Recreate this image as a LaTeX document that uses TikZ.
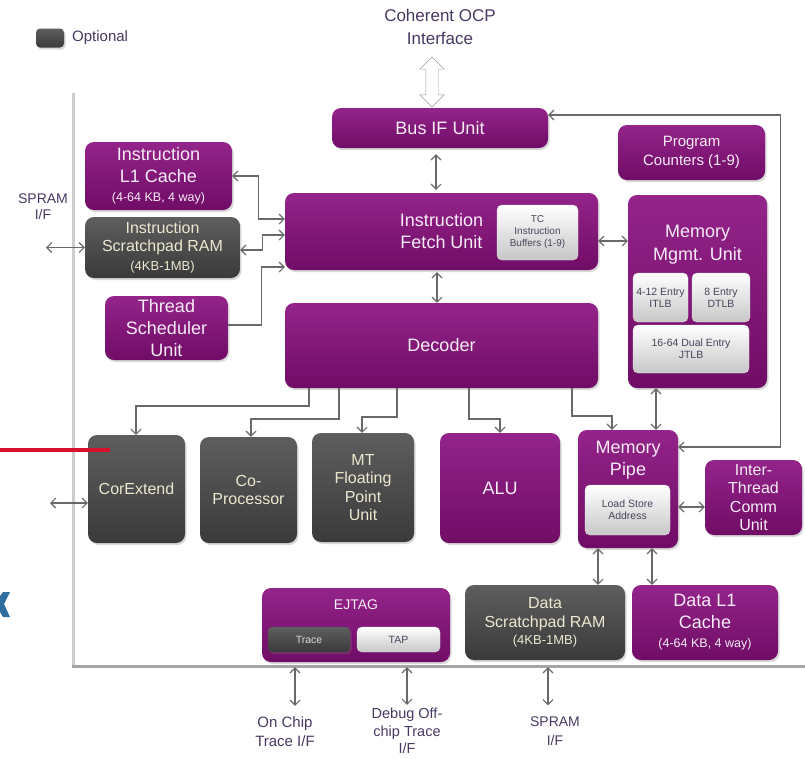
\documentclass[tikz,border=0pt]{standalone}
\usepackage{fontspec}
\setmainfont{Liberation Sans}
\usetikzlibrary{arrows.meta,shadows,shapes.arrows}

\definecolor{purpTop}{RGB}{148,36,138}
\definecolor{purpBot}{RGB}{112,12,102}
\definecolor{greyTop}{RGB}{94,94,94}
\definecolor{greyBot}{RGB}{58,58,58}
\definecolor{inkPurp}{RGB}{72,56,98}
\definecolor{txtPale}{RGB}{246,236,246}
\definecolor{txtCream}{RGB}{236,232,208}
\definecolor{chipInk}{RGB}{70,70,92}
\definecolor{wireGrey}{RGB}{105,105,105}
\definecolor{frameLight}{RGB}{205,205,205}
\definecolor{frameDark}{RGB}{165,165,165}
\definecolor{slideRed}{RGB}{214,16,40}
\definecolor{slideBlue}{RGB}{46,110,160}

\begin{document}
\begin{tikzpicture}[x=1pt,y=-1pt,
		>={Straight Barb[length=5pt,width=10pt]},
		block/.style={rounded corners=9pt,inner sep=2pt,align=center,
			drop shadow={shadow xshift=1.5pt,shadow yshift=-2pt,opacity=0.3}},
		purp/.style={block,top color=purpTop,bottom color=purpBot,text=txtPale,
			font=\fontsize{18}{22}\selectfont},
		grey/.style={block,top color=greyTop,bottom color=greyBot,text=txtCream,
			font=\fontsize{16}{18.5}\selectfont},
		chip/.style={rounded corners=5pt,top color=white,bottom color=black!22,draw=black!12,
			text=chipInk,align=center,inner sep=1pt,font=\fontsize{10.5}{12}\selectfont},
		tag/.style={text=inkPurp,align=center,inner sep=0pt,font=\fontsize{15}{19}\selectfont},
		link/.style={draw=wireGrey,line width=1.1pt}]
		
		\useasboundingbox (0,0) rectangle (805,758);
		
		%frame
		\draw[frameLight,line width=3pt] (73,93) -- (73,666);
		\draw[frameDark,line width=3pt] (72,666) -- (805,666);
		
		%legend
		\node (legbox) [grey,rounded corners=4pt,minimum width=28pt,minimum height=19pt] at (50,38) {};
		\node (legtxt) [tag,anchor=west] at (72,38) {Optional};
		
		%top
		\node (ocp) [tag,font=\fontsize{17}{23}\selectfont] at (440,27) {Coherent OCP\\Interface};
		\node (ocparrow) [double arrow,draw=black!40,fill=white,rotate=90,inner sep=6pt,
			minimum height=50pt,double arrow head extend=6pt] at (432,82) {};
		\node (busif) [purp,minimum width=216pt,minimum height=40pt] at (440,128) {Bus IF Unit};
		\node (pc) [purp,minimum width=147pt,minimum height=55pt,font=\fontsize{15}{19}\selectfont]
			at (691.5,152.5) {Program\\Counters (1-9)};
		
		%fetch
		\node (il1) [purp,minimum width=147pt,minimum height=68pt] at (158.5,176)
			{Instruction\\L1 Cache\\[-3pt]{\fontsize{12.5}{15}\selectfont (4-64 KB, 4 way)}};
		\node (isp) [grey,minimum width=155pt,minimum height=61pt] at (162.5,247.5)
			{Instruction\\Scratchpad RAM\\{\fontsize{13}{15}\selectfont (4KB-1MB)}};
		\node (tsu) [purp,minimum width=123pt,minimum height=64pt] at (166.5,328)
			{Thread\\Scheduler\\Unit};
		\node (ifu) [purp,minimum width=313pt,minimum height=77pt] at (441.5,231.5)
			{Instruction\\Fetch Unit};
		\node (tcbuf) [chip,minimum width=81pt,minimum height=55pt,font=\fontsize{10}{12}\selectfont]
			at (537.5,232.5) {TC\\Instruction\\Buffers (1-9)};
		\node (dec) [purp,minimum width=313pt,minimum height=85pt] at (441.5,345.5) {Decoder};
		
		%mmu
		\node (mmu) [purp,minimum width=139pt,minimum height=193pt] at (697.5,291.5) {};
		\node (mmutxt) [text=txtPale,align=center,font=\fontsize{18}{23}\selectfont] at (697.5,245)
			{Memory\\Mgmt. Unit};
		\node (itlb) [chip,minimum width=55pt,minimum height=49pt] at (660.5,297.5) {4-12 Entry\\ITLB};
		\node (dtlb) [chip,minimum width=58pt,minimum height=49pt] at (721,297.5) {8 Entry\\DTLB};
		\node (jtlb) [chip,minimum width=116pt,minimum height=48pt] at (691,349) {16-64 Dual Entry\\JTLB};
		
		%execution
		\node (corext) [grey,minimum width=97pt,minimum height=108pt] at (136.5,489) {CorExtend};
		\node (copro) [grey,minimum width=97pt,minimum height=106pt] at (248.5,490) {Co-\\Processor};
		\node (fpu) [grey,minimum width=102pt,minimum height=109pt] at (363,487.5)
			{MT\\Floating\\Point\\Unit};
		\node (alu) [purp,minimum width=120pt,minimum height=110pt] at (500,488) {ALU};
		\node (mpipe) [purp,minimum width=100pt,minimum height=118pt] at (628,489) {};
		\node (mpipetxt) [text=txtPale,align=center,font=\fontsize{18}{22}\selectfont] at (628,460)
			{Memory\\Pipe};
		\node (lsa) [chip,minimum width=85pt,minimum height=50pt] at (627.5,510) {Load Store\\Address};
		\node (itc) [purp,minimum width=97pt,minimum height=75pt,font=\fontsize{16}{18.5}\selectfont]
			at (753.5,497.5) {Inter-\\Thread\\Comm\\Unit};
		
		%bottom
		\node (ejtag) [purp,minimum width=188pt,minimum height=74pt] at (356,625) {};
		\node (ejtagtxt) [text=txtPale,font=\fontsize{14}{16}\selectfont] at (356,605) {EJTAG};
		\node (trace) [grey,rounded corners=4pt,inner sep=1pt,minimum width=82pt,minimum height=25pt,
			text=black!15,font=\fontsize{10.5}{12}\selectfont] at (309,639.5) {Trace};
		\node (tap) [chip,minimum width=83pt,minimum height=25pt] at (398.5,639.5) {TAP};
		\node (dspram) [grey,minimum width=160pt,minimum height=75pt] at (545,622.5)
			{Data\\Scratchpad RAM\\[-1pt]{\fontsize{13}{15}\selectfont (4KB-1MB)}};
		\node (dl1) [purp,minimum width=146pt,minimum height=75pt] at (705,622.5)
			{Data L1\\Cache\\[-3pt]{\fontsize{12.5}{15}\selectfont (4-64 KB, 4 way)}};
		
		%outside labels
		\node (spramA) [tag,font=\fontsize{14}{16}\selectfont] at (43,207) {SPRAM\\I/F};
		\node (ontrace) [tag] at (285,732) {On Chip\\Trace I/F};
		\node (debug) [tag,font=\fontsize{14.5}{17.5}\selectfont] at (407,731) {Debug Off-\\chip Trace\\I/F};
		\node (spramB) [tag,font=\fontsize{14}{19}\selectfont] at (555,731) {SPRAM\\I/F};
		
		%connections
		\draw[link,<->] ([yshift=13pt]busif.east) -- ++(232,0) |- ([yshift=42pt]mpipe.east);
		\draw[link,<->,shorten <=6pt,shorten >=3pt] ([xshift=-4pt]busif.south) -- ([xshift=-4pt]busif.south |- ifu.north);
		\draw[link,<->] ([yshift=12.5pt]ifu.west) -- ++(-26,0) |- (il1.east);
		\draw[link,<->] ([yshift=-3.5pt]ifu.west) -- ++(-22,0) |- ([yshift=-2.5pt]isp.east);
		\draw[link,->] ([yshift=3pt]tsu.east) -- ++(33,0) |- ([yshift=-35.5pt]ifu.west);
		\draw[link,<->] ([yshift=-9.5pt]ifu.east) -- ([yshift=-9.5pt]ifu.east -| mmu.west);
		\draw[link,<->,shorten <=2pt] ([xshift=-4.5pt]ifu.south) -- ([xshift=-4.5pt]ifu.south |- dec.north);
		
		\foreach \sx/\my/\tx/\ziel in {309/406/136/corext, 339/419/251/copro, 397/417/362/fpu,
			469/419/500/alu, 572/416/612/mpipe}
		\draw[link,->] (dec.south -| \sx,0) -- (\sx,\my) -| (\ziel.north -| \tx,0);
		
		\draw[link,<->] ([xshift=-41.5pt]mmu.south) -- ([xshift=-41.5pt]mmu.south |- mpipe.north);
		\draw[link,<->] ([yshift=-18pt]mpipe.east) -- ([yshift=-18pt]mpipe.east -| itc.west);
		\draw[link,<->] ([xshift=-30pt]mpipe.south) -- ([xshift=-30pt]mpipe.south |- dspram.north);
		\draw[link,<->] ([xshift=24pt]mpipe.south) -- ([xshift=24pt]mpipe.south |- dl1.north);
		
		%external
		\coordinate (sprampt) at (46,247.5);
		\draw[link,<->] (isp.west) -- (sprampt);
		\coordinate (cxpt) at (50,503);
		\draw[link,<->] ([yshift=-14pt]corext.west) -- (cxpt);
		\draw[link,<->,shorten <=5pt,shorten >=11pt] ([xshift=-61pt]ejtag.south) -- ([xshift=-61pt]ejtag.south |- ontrace.north);
		\draw[link,<->,shorten <=5pt,shorten >=3pt] ([xshift=51pt]ejtag.south) -- ([xshift=51pt]ejtag.south |- debug.north);
		\draw[link,<->,shorten <=7pt,shorten >=11pt] ([xshift=3pt]dspram.south) -- ([xshift=3pt]dspram.south |- spramB.north);
		
		%slide leftovers
		\draw[slideRed,line width=3.5pt] (0,450) -- (110,450);
		\fill[slideBlue] (0,596) -- (3,592) -- (10,592) -- (4,604) -- (10,617) -- (3,617) -- (0,612) -- cycle;
		
	\end{tikzpicture}
\end{document}
